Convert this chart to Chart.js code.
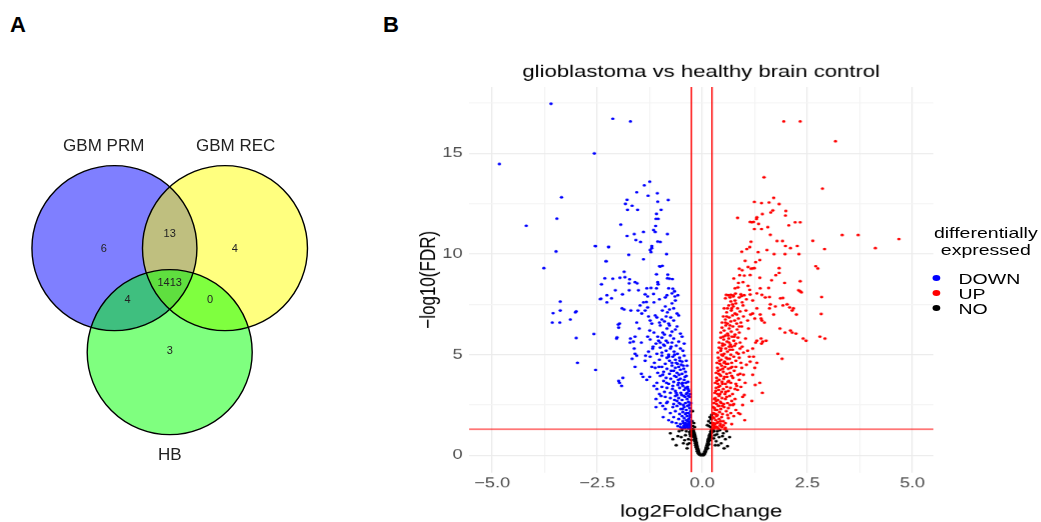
<!DOCTYPE html>
<html>
<head>
<meta charset="utf-8">
<script src="https://cdn.jsdelivr.net/npm/chart.js@4.4.1/dist/chart.umd.min.js"></script>
<style>
  body { margin: 0; background: #fff; width: 1041px; height: 522px; overflow: hidden; position: relative;
         font-family: "Liberation Sans", Arial, sans-serif; }
  .tag { position: absolute; font-weight: bold; font-size: 22px; line-height: 22px; color: #000; }
  #venn { position: absolute; left: 0; top: 0; }
  #panelB { position: absolute; left: 380px; top: 0; width: 508px; height: 522px;
            transform: scaleX(1.3); transform-origin: 0 0; }
  #volcano { position: absolute; left: 0; top: 0; }
  .lgTitle { position: absolute; left: 406px; top: 223.6px; width: 120px; text-align: center;
             font-size: 15px; line-height: 17px; color: #000; }
  .lgItem { position: absolute; left: 445px; font-size: 15px; line-height: 15.3px; color: #000; }
  .dot { position: absolute; left: 424.5px; width: 6px; height: 6px; border-radius: 50%; }
</style>
</head>
<body>
<div class="tag" style="left:10px;top:14px">A</div>
<div class="tag" style="left:383px;top:14px">B</div>
<canvas id="venn" width="380" height="522"></canvas>
<div id="panelB">
  <canvas id="volcano" width="508" height="522"></canvas>
  <div class="lgTitle">differentially<br>expressed</div>
  <div class="dot" style="top:274.7px;background:#0000ff"></div>
  <div class="lgItem" style="top:270.5px">DOWN</div>
  <div class="dot" style="top:290px;background:#ff0000"></div>
  <div class="lgItem" style="top:285.8px">UP</div>
  <div class="dot" style="top:305.3px;background:#000000"></div>
  <div class="lgItem" style="top:301.1px">NO</div>
</div>
<script>
// ---- panel A: overlap of gene lists ----
const vennSets = ['GBM PRM', 'GBM REC', 'HB'];
// PRM only, PRM&REC, REC only, all three, PRM&HB, REC&HB, HB only
const vennCounts = [6, 13, 4, 1413, 4, 0, 3];

// ---- panel B: volcano plot, [log2FoldChange, -log10(FDR)] ----
const fdrCut = 1.3;
const lfcCuts = [-0.26, 0.23];

const downGenes = [
  [-3.60,17.47],[-4.83,14.48],[-2.13,16.73],[-1.71,16.59],[-2.57,15.0],[-4.19,11.41],[-3.35,12.82],[-3.46,11.76],
  [-3.48,10.13],[-3.77,9.30],[-2.54,10.39],[-2.23,10.36],[-2.29,9.65],
  [-1.25,13.6],[-1.38,13.42],[-1.56,13.07],[-1.29,12.9],[-1.07,13.02],[-1.79,12.7],[-0.81,12.69],[-1.83,12.5],[-1.67,12.4],
  [-1.06,12.6],[-1.78,12.2],[-1.54,12.2],[-0.98,12.2],[-1.09,12.0],[-1.1,11.75],[-1.05,11.75],
  [-1.94,11.46],[-1.11,11.4],[-1.16,11.2],[-1.12,11.1],[-1.79,10.9],[-1.62,11.0],[-1.4,11.1],[-0.83,11.0],
  [-1.58,10.7],[-1.47,10.6],[-1.0,10.6],[-1.06,10.62],[-1.2,10.3],[-1.24,10.2],[-1.22,10.1],[-1.2,10.4],
  [-2.55,10.4],[-2.23,10.35],[-1.75,9.96],[-0.85,10.0],[-1.4,9.74],[-2.29,9.64],
  [-1.02,9.4],[-1.0,9.38],[-0.95,9.42],[-1.86,9.12],[-1.09,9.0],[-0.82,8.98],
  [-2.32,8.8],[-2.13,8.78],[-1.96,8.82],[-1.84,8.85],[-1.73,8.75],[-0.83,8.8],[-0.78,8.78],[-0.71,8.76],
  [-1.06,8.6],[-1.05,8.5],[-2.4,8.5],[-1.6,8.6],[-1.74,8.55],[-1.55,8.55],
  [-2.07,8.2],[-1.74,8.2],[-1.52,8.2],[-1.32,8.3],[-1.22,8.32],[-1.09,8.3],[-0.8,8.3],[-0.7,8.28],[-0.66,8.15],[-0.72,8.05],
  [-2.27,7.95],[-2.16,7.8],[-2.41,7.78],[-1.9,8.0],[-1.36,8.0],[-1.3,7.9],[-1.16,8.02],[-0.84,7.95],[-0.65,7.9],[-0.58,7.95],
  [-2.43,7.76],[-2.27,7.6],[-1.33,7.62],[-0.88,7.85],[-0.72,7.55],[-0.64,7.7],
  [-3.38,7.64],[-3.55,7.06],[-3.38,7.2],[-3.57,6.6],[-3.39,6.6],
  [-3.02,7.1],[-3.0,7.15],[-1.91,7.3],[-1.86,7.25],[-1.48,7.45],[-1.44,7.05],[-1.36,7.2],[-1.30,7.35],[-0.88,7.4],
  [-0.83,7.1],[-0.78,7.25],[-0.68,7.3],[-0.60,7.05],[-1.53,7.2],
  [-3.14,6.75],[-1.56,6.6],[-1.28,6.9],[-1.24,6.7],[-1.20,6.55],[-1.08,6.85],[-1.02,6.6],[-0.96,6.75],[-0.86,6.9],
  [-0.80,6.55],[-0.68,6.7],[-0.56,6.95],[-2.0,6.5],
  [-2.58,6.03],[-1.99,6.35],[-1.97,6.55],[-1.25,6.2],[-1.0,6.45],[-0.94,6.1],[-0.84,6.3],[-0.72,6.15],[-0.60,6.4],[-0.52,6.05],
  [-3.0,5.83],[-2.03,5.86],[-1.71,5.8],[-1.64,5.65],[-1.60,5.9],[-1.45,5.6],[-1.24,5.75],[-1.10,5.55],[-1.06,5.9],
  [-1.04,5.7],[-1.0,5.6],[-0.96,5.85],[-0.92,5.5],[-0.86,5.7],[-0.76,5.95],[-0.72,5.6],[-0.68,5.8],[-0.56,5.65],
  [-0.48,5.9],[-0.43,5.55],[-2.04,5.8],[-1.72,5.6],
  [-1.62,5.3],[-1.28,5.15],[-1.17,5.4],[-1.08,5.05],[-1.0,5.35],[-0.96,5.1],[-0.90,5.45],[-0.86,5.2],[-0.80,5.0],
  [-0.76,5.3],[-0.67,5.15],[-0.62,5.45],[-0.59,5.05],[-0.52,5.3],[-0.46,5.2],[-1.6,5.05],
  [-2.97,4.6],[-1.67,4.8],[-1.56,4.95],[-1.36,4.7],[-1.24,4.9],[-1.14,4.6],[-1.02,4.75],[-0.96,4.95],[-0.88,4.55],
  [-0.84,4.85],[-0.78,4.7],[-0.72,4.6],[-0.70,4.9],[-0.64,4.75],[-0.59,4.55],[-0.54,4.85],[-0.48,4.65],[-0.43,4.95],[-0.38,4.7],
  [-2.54,4.24],[-1.45,4.05],[-1.12,4.35],[-1.06,4.1],[-0.96,4.4],[-0.92,4.15],[-0.84,4.3],[-0.78,4.05],[-0.72,4.45],
  [-0.68,4.2],[-0.64,4.35],[-0.60,4.1],[-0.56,4.4],[-0.52,4.25],[-0.48,4.05],[-0.44,4.3],[-0.40,4.15],[-0.36,4.45],
  [-1.99,3.7],[-1.89,3.85],[-1.97,3.6],[-1.92,3.45],[-1.41,3.9],[-1.32,3.75],[-1.08,3.6],[-1.0,3.95],[-0.92,3.7],
  [-0.86,3.85],[-0.80,3.55],[-0.75,3.8],[-0.68,3.65],[-0.62,3.9],[-0.56,3.6],[-0.52,3.8],[-0.48,3.55],[-0.43,3.75],
  [-0.38,3.95],[-0.34,3.65],
  [-1.08,3.3],[-1.02,3.05],[-0.96,3.4],[-0.90,3.15],[-0.84,3.35],[-0.76,3.1],[-0.70,3.45],[-0.64,3.2],[-0.60,3.0],
  [-0.54,3.35],[-0.51,3.1],[-0.46,3.45],[-0.43,3.25],[-0.38,3.05],[-0.35,3.4],[-0.32,3.2],
  [-1.10,2.8],[-1.0,2.6],[-0.88,2.9],[-0.83,2.65],[-0.76,2.85],[-0.68,2.55],[-0.64,2.95],[-0.60,2.7],[-0.56,2.85],
  [-0.52,2.55],[-0.48,2.75],[-0.44,2.95],[-0.40,2.6],[-0.36,2.8],[-0.33,2.65],[-0.30,2.9],
  [-0.88,2.3],[-0.76,2.1],[-0.70,2.4],[-0.64,2.2],[-0.60,2.45],[-0.54,2.05],[-0.51,2.3],[-0.46,2.15],[-0.43,2.4],
  [-0.40,2.05],[-0.38,2.25],[-0.35,2.45],[-0.33,2.1],[-0.30,2.35],[-0.28,2.2],
  [-0.80,1.75],[-0.68,1.9],[-0.62,1.6],[-0.56,1.8],[-0.52,1.55],[-0.48,1.95],[-0.46,1.7],[-0.43,1.85],[-0.40,1.6],
  [-0.38,1.75],[-0.36,1.95],[-0.34,1.55],[-0.32,1.8],[-0.30,1.65],[-0.29,1.9],[-0.28,1.52],
  [-0.52,1.4],[-0.48,1.35],[-0.44,1.45],[-0.40,1.38],[-0.36,1.42],[-0.33,1.33],[-0.30,1.46],[-0.28,1.36],
  [-0.31,1.58],[-0.35,1.7],[-0.42,1.5],[-0.29,2.0],[-0.37,2.1],[-0.45,2.5],[-0.31,2.5],[-0.41,2.9],[-0.49,3.0],
  [-0.36,3.1],[-0.47,3.6],[-0.58,3.5],[-0.41,3.9],[-0.55,4.0],[-0.62,4.6],[-0.50,4.5],[-0.66,5.0],[-0.74,5.4],
  [-0.82,5.6],[-0.90,6.0],
  [-1.15,7.6],[-1.02,7.75],[-0.95,7.2],[-1.12,6.95],[-0.9,6.65],[-0.75,6.85],[-0.64,6.25],[-0.78,6.45],[-1.15,6.1],
  [-1.3,5.9],[-1.18,5.3],[-1.35,4.95],[-1.2,4.4],[-1.25,3.9],[-1.15,3.45],[-0.98,2.95],[-0.94,2.45],[-0.72,1.65],
  [-0.58,1.45],[-0.66,2.75],[-0.57,3.75],[-0.66,3.95],[-0.74,4.2],[-0.8,4.9],[-0.53,4.7],[-0.45,4.45],[-0.39,3.6],
  [-0.33,2.95],[-0.27,1.7],[-0.27,2.6],[-0.29,3.05],[-0.34,3.3],[-0.4,3.35],[-0.47,2.3],[-0.55,2.6],[-0.62,3.1],
  [-0.71,3.3],[-0.85,3.6],[-0.94,4.0],[-1.03,4.4],[-1.5,6.3],[-1.4,7.6],[-1.7,7.2],[-1.6,4.4],[-1.1,2.4],[-0.93,1.9],
  [-0.85,2.6],[-0.42,1.35],[-0.37,1.5],[-0.45,1.6]
];

const upGenes = [
  [1.94,16.59],[2.33,16.59],[3.17,15.61],[1.47,13.82],[2.86,13.25],
  [1.70,12.79],[1.24,12.59],[1.41,12.54],[1.59,12.56],[1.83,12.49],[1.99,12.14],[1.98,11.91],[1.68,12.17],[1.63,12.07],
  [1.43,11.99],[0.84,11.8],[1.30,11.83],[1.29,11.74],[1.14,11.6],[1.18,11.58],[1.22,11.6],[1.34,11.5],[2.21,11.58],
  [2.33,11.58],[1.56,11.34],[1.41,11.24],[1.24,11.24],[2.06,11.43],[1.62,10.96],
  [1.16,10.61],[1.78,10.65],[1.91,10.65],[2.63,10.66],[2.91,10.25],[3.33,10.95],[3.71,10.95],[4.68,10.75],[4.12,10.3],
  [1.06,10.25],[1.13,10.35],[0.94,10.12],[1.33,10.1],[1.54,10.2],[1.98,10.4],[2.10,10.3],[2.26,10.4],
  [1.71,10.0],[1.97,10.0],[2.30,10.0],[1.02,9.67],[1.37,9.7],[1.27,9.6],
  [0.88,9.27],[0.95,9.2],[1.09,9.36],[1.16,9.27],[1.20,9.28],[1.24,9.3],[1.83,9.3],[2.70,9.4],[2.75,9.28],
  [0.75,8.79],[0.89,8.95],[1.00,8.93],[1.14,8.96],[1.37,8.82],[1.75,8.95],[1.83,9.06],
  [0.86,8.57],[0.97,8.6],[1.09,8.42],[1.65,8.7],[1.96,8.57],[2.33,8.65],
  [0.78,8.3],[0.85,8.35],[1.13,8.22],[1.38,8.3],[1.58,8.32],[2.33,8.15],[2.36,8.1],[2.29,8.2],
  [0.57,7.97],[0.68,7.97],[0.74,7.94],[0.79,8.04],[0.94,7.92],[1.14,7.99],[1.42,7.97],[1.60,7.87],[1.92,7.82],[2.84,7.87],
  [0.55,7.8],[0.62,7.95],[0.68,7.65],[0.74,7.9],[0.80,7.55],[0.88,7.85],[0.95,7.6],[1.05,7.75],[1.20,7.7],[1.50,7.85],[1.86,7.8],
  [0.52,7.3],[0.58,7.1],[0.63,7.45],[0.69,7.2],[0.74,7.4],[0.78,7.05],[0.84,7.3],[0.90,7.15],[0.97,7.45],[1.04,7.2],
  [1.15,7.0],[1.20,7.05],[1.30,7.3],[1.60,7.3],[1.62,7.5],[1.92,7.45],[2.02,7.5],[2.08,7.35],[2.14,7.2],[2.24,7.0],
  [2.17,7.3],[1.74,7.4],[1.70,7.0],[1.38,7.0],[2.83,7.03],[0.70,7.3],[0.78,7.7],
  [0.47,6.6],[0.50,6.9],[0.55,6.75],[0.60,6.55],[0.64,6.85],[0.68,6.65],[0.72,6.95],[0.77,6.7],[0.82,6.55],[0.86,6.8],
  [0.92,6.6],[0.98,6.9],[1.08,6.7],[1.40,6.8],[1.42,6.7],[1.48,6.6],[0.58,6.9],
  [0.44,6.1],[0.47,6.35],[0.52,6.2],[0.56,6.45],[0.60,6.05],[0.64,6.3],[0.69,6.15],[0.73,6.4],[0.78,6.0],[0.83,6.25],
  [0.88,6.1],[0.94,6.4],[1.85,6.3],[2.10,6.2],[2.14,6.1],[1.97,6.1],[2.23,6.05],[0.66,6.45],[0.62,5.95],
  [0.40,5.6],[0.44,5.85],[0.48,5.55],[0.51,5.75],[0.55,5.95],[0.59,5.65],[0.63,5.8],[0.67,5.5],[0.71,5.9],[0.75,5.7],
  [0.80,5.55],[0.85,5.85],[0.90,5.6],[1.27,5.6],[1.30,5.7],[1.40,5.8],[1.41,5.55],[1.52,5.7],[1.44,5.65],[2.40,5.8],
  [2.47,5.7],[2.80,5.9],[2.92,5.8],[0.53,5.5],
  [0.37,5.1],[0.40,5.35],[0.44,5.2],[0.48,5.45],[0.52,5.05],[0.56,5.3],[0.60,5.15],[0.64,5.4],[0.68,5.0],[0.72,5.25],
  [0.77,5.45],[0.82,5.1],[0.90,5.3],[0.95,5.4],[1.08,5.2],[1.20,5.3],[1.80,5.05],[0.46,5.0],[0.66,5.25],
  [0.35,4.6],[0.38,4.85],[0.42,4.55],[0.45,4.75],[0.49,4.95],[0.53,4.65],[0.57,4.85],[0.61,4.55],[0.65,4.8],[0.70,4.6],
  [0.75,4.9],[0.80,4.7],[0.88,4.85],[0.92,4.6],[1.12,4.9],[1.14,4.65],[1.22,4.9],[1.30,4.6],[1.90,4.8],[0.57,4.55],
  [0.33,4.1],[0.36,4.35],[0.39,4.05],[0.43,4.25],[0.46,4.45],[0.50,4.15],[0.54,4.4],[0.58,4.05],[0.62,4.3],[0.66,4.1],
  [0.71,4.4],[0.76,4.2],[0.85,4.0],[0.90,4.05],[0.94,4.35],[1.20,4.0],[1.25,4.35],[0.42,4.0],[0.49,4.3],
  [0.31,3.6],[0.34,3.85],[0.37,3.55],[0.40,3.75],[0.44,3.95],[0.47,3.65],[0.51,3.8],[0.55,3.55],[0.59,3.9],[0.63,3.7],
  [0.68,3.6],[0.73,3.85],[0.80,3.55],[0.88,3.75],[1.02,3.6],[1.37,3.6],[0.53,3.9],[0.61,3.65],
  [0.30,3.1],[0.33,3.35],[0.36,3.05],[0.39,3.25],[0.42,3.45],[0.46,3.15],[0.50,3.3],[0.54,3.05],[0.58,3.4],[0.62,3.2],
  [0.67,3.35],[0.72,3.05],[0.78,3.3],[0.82,3.45],[1.00,3.0],[1.26,3.5],[1.43,3.1],[0.39,3.4],[0.56,3.15],
  [0.28,2.6],[0.31,2.85],[0.34,2.55],[0.37,2.75],[0.40,2.95],[0.43,2.65],[0.47,2.85],[0.51,2.55],[0.55,2.8],[0.60,2.6],
  [0.65,2.95],[0.70,2.7],[0.75,2.55],[0.73,2.5],[0.96,2.9],[0.96,2.5],[1.18,2.7],[0.45,2.6],
  [0.27,2.1],[0.29,2.35],[0.32,2.05],[0.35,2.25],[0.38,2.45],[0.41,2.15],[0.44,2.3],[0.48,2.05],[0.52,2.4],[0.57,2.2],
  [0.62,2.35],[0.68,2.1],[0.80,2.25],[0.90,2.05],[0.36,2.0],[0.40,2.45],[0.31,2.25],
  [0.27,1.6],[0.28,1.85],[0.30,1.55],[0.32,1.75],[0.34,1.95],[0.37,1.65],[0.40,1.8],[0.43,1.55],[0.46,1.9],[0.50,1.7],
  [0.55,1.6],[0.62,1.85],[0.70,1.55],[1.01,1.75],[0.50,1.5],
  [0.27,1.35],[0.29,1.45],[0.31,1.38],[0.34,1.42],[0.38,1.33],[0.42,1.47],[0.47,1.4],[0.55,1.36],
  [0.26,1.5],[0.25,1.9],[0.26,2.4],[0.29,2.8],[0.32,3.2],[0.35,3.7],[0.38,4.2],[0.41,4.7],[0.45,5.3],[0.5,5.9],
  [0.55,6.6],[0.6,7.3],[0.66,7.85],[0.72,7.5],[0.82,7.0],[0.88,6.4],[0.76,5.9],[0.7,5.4],[0.86,5.05],[0.6,4.8],
  [0.68,4.35],[0.8,4.4],[0.7,3.95],[0.84,3.25],[0.92,3.4],[0.66,2.5],[0.58,2.9],[0.48,2.45],[0.6,2.0],[0.75,1.95],
  [0.44,1.7],[0.35,1.6],[0.42,3.05],[0.48,3.55],[0.52,4.6],[0.64,5.6],[0.98,5.1],[1.05,4.5],[1.1,6.3],[1.25,6.8],
  [1.0,7.95],[1.3,8.05],[0.92,8.0],[1.03,5.8],[0.98,4.0],[0.78,2.8],[0.86,2.1],[0.54,1.3],[0.3,2.05],[0.33,2.7]
];

const noGenes = [
  [-0.25,1.28],[-0.23,1.3],[-0.21,1.25],[-0.24,1.18],[-0.22,1.2],[-0.2,1.15],[-0.22,1.08],[-0.2,1.1],[-0.18,1.05],
  [-0.21,0.98],[-0.19,1.0],[-0.17,0.95],[-0.2,0.9],[-0.18,0.88],[-0.16,0.85],[-0.19,0.8],[-0.17,0.78],[-0.15,0.75],
  [-0.18,0.7],[-0.16,0.68],[-0.14,0.65],[-0.17,0.6],[-0.15,0.58],[-0.13,0.55],[-0.16,0.5],[-0.14,0.48],[-0.12,0.45],
  [-0.15,0.4],[-0.13,0.38],[-0.11,0.35],[-0.13,0.3],[-0.11,0.28],[-0.09,0.25],[-0.12,0.2],[-0.1,0.18],[-0.08,0.15],
  [-0.1,0.1],[-0.08,0.08],[-0.06,0.06],[-0.07,0.03],[-0.05,0.02],[-0.03,0.01],[-0.02,0.04],[0.0,0.02],[0.02,0.01],
  [0.22,1.28],[0.24,1.3],[0.26,1.25],[0.2,1.18],[0.22,1.2],[0.24,1.15],[0.19,1.08],[0.21,1.1],[0.17,1.0],[0.19,0.98],
  [0.21,0.95],[0.16,0.9],[0.18,0.88],[0.14,0.8],[0.16,0.78],[0.18,0.75],[0.13,0.7],[0.15,0.68],[0.12,0.6],[0.14,0.58],
  [0.16,0.55],[0.11,0.5],[0.13,0.48],[0.09,0.4],[0.11,0.38],[0.13,0.35],[0.08,0.3],[0.1,0.28],[0.06,0.2],[0.08,0.18],
  [0.04,0.1],[0.06,0.08],[0.03,0.05],[0.04,0.02],
  [-0.76,1.1],[-0.7,0.8],[-0.62,0.5],[-0.55,1.2],[-0.5,0.9],[-0.45,0.6],[-0.4,1.0],[-0.36,0.35],[-0.33,0.8],[-0.3,1.15],
  [-0.42,0.75],[-0.58,0.95],[-0.48,1.25],[-0.35,0.55],[-0.28,0.95],[-0.31,0.6],[-0.38,1.2],[-0.27,1.25],[-0.29,1.05],[-0.26,0.75],
  [0.36,1.2],[0.4,0.9],[0.45,0.6],[0.5,1.1],[0.55,0.8],[0.6,0.45],[0.52,0.35],[0.42,1.25],[0.33,0.7],[0.3,1.0],
  [0.65,0.9],[0.38,0.5],[0.48,0.95],[0.58,1.2],[0.28,1.2],[0.27,0.85],[0.31,0.5],[0.35,1.05],
  [0.12,1.5],[0.15,1.7],[0.18,1.9],[0.2,1.6],[0.22,2.0],[0.2,1.4],[0.16,1.45],[-0.22,1.45],[-0.2,1.6],[-0.24,1.7],
  [-0.18,1.4],[-0.23,2.2],[0.21,1.8]
];

const FONT = '"Liberation Sans", Arial, sans-serif';

// ---------- Venn (bubble chart, units = circle radius) ----------
const vennCentres = [[-0.67, 0.42], [0.67, 0.42], [0, -0.84]];
const vennFills = ['rgba(0,0,255,0.5)', 'rgba(255,255,0,0.5)', 'rgba(0,255,0,0.5)'];
const setLabelPos = [[-0.80, 1.66], [0.80, 1.66], [0, -2.09]];
const countPos = [[-0.80, 0.41], [0, 0.59], [0.79, 0.41], [0, 0], [-0.51, -0.21], [0.49, -0.21], [0, -0.83]];
const vxMin = -2.057, vxMax = 2.549, vyMin = -2.899, vyMax = 3.428;

const vennCanvas = document.getElementById('venn');
// chart area fills the whole canvas (no padding), so one radius unit in pixels is:
const unitPx = vennCanvas.width / (vxMax - vxMin);
const circles = vennCentres.map(c => ({ x: c[0], y: c[1], r: unitPx }));

const vennText = {
  id: 'vennText',
  afterDatasetsDraw(chart) {
    const { ctx, scales: { x, y } } = chart;
    ctx.save();
    ctx.textAlign = 'center';
    ctx.textBaseline = 'middle';
    ctx.fillStyle = '#222';
    ctx.font = '17px ' + FONT;
    vennSets.forEach((s, i) => ctx.fillText(s, x.getPixelForValue(setLabelPos[i][0]), y.getPixelForValue(setLabelPos[i][1])));
    ctx.font = '11px ' + FONT;
    vennCounts.forEach((n, i) => ctx.fillText(String(n), x.getPixelForValue(countPos[i][0]), y.getPixelForValue(countPos[i][1])));
    ctx.restore();
  }
};

new Chart(vennCanvas, {
  type: 'bubble',
  data: {
    datasets: [
      { data: circles, backgroundColor: 'rgba(0,0,0,0)', borderColor: '#000', borderWidth: 1.4, order: 1, clip: false },
      { data: circles, backgroundColor: vennFills, borderColor: 'rgba(0,0,0,0)', borderWidth: 0, order: 2, clip: false }
    ]
  },
  options: {
    responsive: false,
    animation: false,
    events: [],
    layout: { padding: 0, autoPadding: false },
    scales: {
      x: { display: false, min: vxMin, max: vxMax },
      y: { display: false, min: vyMin, max: vyMax }
    },
    plugins: { legend: { display: false }, tooltip: { enabled: false } }
  },
  plugins: [vennText]
});

// ---------- volcano ----------
const xMin = -5.55, xMax = 5.5, yMin = -0.85, yMax = 18.3;
const pts = arr => arr.map(p => ({ x: p[0], y: p[1] }));
const fmtX = v => (v < 0 ? '\u2212' : '') + Math.abs(v).toFixed(1);

new Chart(document.getElementById('volcano'), {
  type: 'scatter',
  data: {
    datasets: [
      { data: [{ x: xMin, y: fdrCut }, { x: xMax, y: fdrCut }], showLine: true, borderColor: 'rgba(255,0,0,0.7)',
        borderWidth: 1.4, pointRadius: 0, order: 0 },
      { data: [{ x: lfcCuts[0], y: yMin }, { x: lfcCuts[0], y: yMax }], showLine: true, borderColor: '#ff0000',
        borderWidth: 1.1, pointRadius: 0, order: 0 },
      { data: [{ x: lfcCuts[1], y: yMin }, { x: lfcCuts[1], y: yMax }], showLine: true, borderColor: '#ff0000',
        borderWidth: 1.1, pointRadius: 0, order: 0 },
      { label: 'DOWN', data: pts(downGenes), backgroundColor: '#0000ff', pointRadius: 1.35, borderWidth: 0, order: 1 },
      { label: 'UP', data: pts(upGenes), backgroundColor: '#ff0000', pointRadius: 1.35, borderWidth: 0, order: 1 },
      { label: 'NO', data: pts(noGenes), backgroundColor: '#000000', pointRadius: 1.35, borderWidth: 0, order: 1 }
    ]
  },
  options: {
    responsive: false,
    devicePixelRatio: 1.3,
    animation: false,
    events: [],
    layout: { padding: { left: 0, right: 82.6, top: 0, bottom: 0 } },
    scales: {
      x: {
        type: 'linear', min: xMin, max: xMax,
        border: { display: false },
        grid: { color: c => (c.tick && c.tick.value % 2.5 === 0) ? '#EBEBEB' : '#F4F4F4', lineWidth: 1, drawTicks: false },
        ticks: { stepSize: 1.25, includeBounds: false, autoSkip: false, maxRotation: 0, padding: 3,
                 color: '#4D4D4D', font: { size: 14, family: FONT },
                 callback: v => v % 2.5 === 0 ? fmtX(v) : '' },
        title: { display: true, text: 'log2FoldChange', color: '#000', font: { size: 17, family: FONT },
                 padding: { top: 0, bottom: 0 } },
        afterFit: s => { s.height = 50; }
      },
      y: {
        min: yMin, max: yMax,
        border: { display: false },
        grid: { color: c => (c.tick && c.tick.value % 5 === 0) ? '#EBEBEB' : '#F4F4F4', lineWidth: 1, drawTicks: false },
        ticks: { stepSize: 2.5, includeBounds: false, autoSkip: false, padding: 5,
                 color: '#4D4D4D', font: { size: 14, family: FONT },
                 callback: v => v % 5 === 0 ? String(v) : '' },
        title: { display: true, text: '\u2212log10(FDR)', color: '#000', font: { size: 17, family: FONT },
                 padding: { top: 27.5, bottom: 0 } },
        afterFit: s => { s.width = 68.5; }
      }
    },
    plugins: {
      legend: { display: false },
      tooltip: { enabled: false },
      title: { display: true, text: 'glioblastoma vs healthy brain control', color: '#000', fullSize: false,
               font: { size: 17, weight: 'normal', family: FONT }, padding: { top: 61.8, bottom: 4.8 } }
    }
  }
});
</script>
</body>
</html>
